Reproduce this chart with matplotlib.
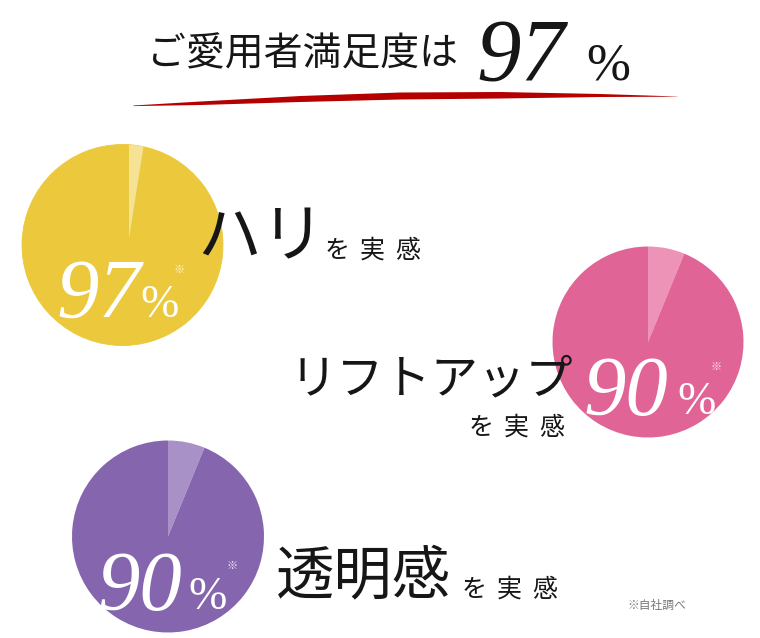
import matplotlib
matplotlib.use("Agg")
import matplotlib.pyplot as plt
import numpy as np

W, H = 760, 638

# ---- data -------------------------------------------------------------
headline_label = "ご愛用者満足度は"
headline_value = "97"
percent_sign = "%"
item_names = ["ハリ", "リフトアップ", "透明感"]
item_suffix = "を実感"
item_percent_labels = ["97", "90", "90"]
# visible wedge shares: [light slice, main slice]
yellow_shares = [2.5, 97.5]
pink_shares = [6.2, 93.8]
purple_shares = [6.2, 93.8]
footnote = "※自社調べ"

# ---- styles -----------------------------------------------------------
JP = ["Noto Sans CJK JP", "DejaVu Sans"]
SERIF = ["Liberation Serif", "DejaVu Serif"]
INK = "#161616"
Y_MAIN, Y_LIGHT = "#ECC83C", "#F5E294"
P_MAIN, P_LIGHT = "#E16497", "#EC93B7"
V_MAIN, V_LIGHT = "#8566AE", "#A891C6"
RED = "#B40000"


def Y(y):
    return H - y


fig = plt.figure(figsize=(W / 100, H / 100), dpi=100)
ax = fig.add_axes([0, 0, 1, 1])

# ---- pies -------------------------------------------------------------
ax.pie(yellow_shares, colors=[Y_MAIN, Y_MAIN], center=(122.5, Y(245)), radius=100.5,
       startangle=90, counterclock=False,
       wedgeprops=dict(linewidth=0.6, edgecolor=Y_MAIN))
ax.pie(yellow_shares, colors=[Y_LIGHT, "none"], center=(129, Y(238.5)), radius=93.5,
       startangle=90, counterclock=False, wedgeprops=dict(linewidth=0))
ax.pie(pink_shares, colors=[P_LIGHT, P_MAIN], center=(648, Y(342)), radius=95.5,
       startangle=90, counterclock=False, wedgeprops=dict(linewidth=0))
ax.pie(purple_shares, colors=[V_LIGHT, V_MAIN], center=(168, Y(536.5)), radius=96,
       startangle=90, counterclock=False, wedgeprops=dict(linewidth=0))

# ---- red brush swoosh under the headline -------------------------------
sx = [133, 200, 300, 400, 500, 600, 677]
top = [105, 101, 95.5, 92, 91.5, 93.5, 96]
bot = [105.6, 104.5, 101.5, 99, 98, 96.5, 96.2]
xs = np.linspace(133, 677, 300)
ax.fill_between(xs, Y(np.interp(xs, sx, top)), Y(np.interp(xs, sx, bot)),
                color=RED, linewidth=0)

# ---- headline ------------------------------------------------------------
ax.text(147, Y(54), headline_label, family=JP, fontsize=28, color=INK,
        ha="left", va="center")
ax.text(476, Y(80), headline_value, family=SERIF, style="italic", fontsize=64,
        color=INK, ha="left", va="baseline")
ax.text(586, Y(80), percent_sign, family=SERIF, fontsize=38, color=INK,
        ha="left", va="baseline")

# ---- percent labels inside pies -----------------------------------------
pct_pos = [(57, 318, 140, 179, 270), (584, 415, 677, 716, 367), (98, 610, 188, 232, 566)]
for lab, (x0, base, xp, xs_, ys_) in zip(item_percent_labels, pct_pos):
    ax.text(x0, Y(base), lab, family=SERIF, style="italic", fontsize=61,
            color="white", ha="left", va="baseline")
    ax.text(xp, Y(base - 1), percent_sign, family=SERIF, fontsize=33,
            color="white", ha="left", va="baseline")
    ax.text(xs_, Y(ys_), "※", family=JP, fontsize=8, color="white", alpha=0.85,
            ha="center", va="center")

# ---- item labels ------------------------------------------------------
name_pos = [(197, 238, 46), (290, 380, 34), (276, 577, 42)]
suffix_pos = [(325, 251), (469, 428), (462, 590)]
for name, (nx, ny, fs), (sx0, sy0) in zip(item_names, name_pos, suffix_pos):
    ax.text(nx, Y(ny), name, family=JP, fontsize=fs, color=INK, ha="left", va="center")
    for i, ch in enumerate(item_suffix):
        ax.text(sx0 + i * 35, Y(sy0), ch, family=JP, fontsize=18, color=INK,
                ha="left", va="center")

ax.text(627, Y(605), footnote, family=JP, fontsize=8.5, color="#777777",
        ha="left", va="center")

ax.set_xlim(0, W)
ax.set_ylim(0, H)
ax.set_aspect("equal")
ax.axis("off")
fig.savefig("out.png", dpi=100, facecolor="white")
